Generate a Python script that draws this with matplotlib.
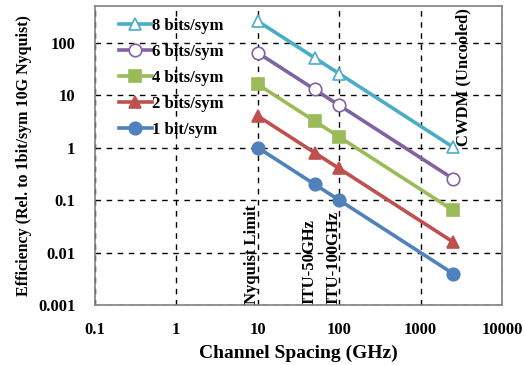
import matplotlib
matplotlib.use("Agg")
import matplotlib.pyplot as plt

plt.rcParams['font.family'] = ['Liberation Serif', 'DejaVu Serif']
plt.rcParams['font.weight'] = 'bold'

# channel spacing (GHz)
spacing = [10, 50, 100, 2500]
labels = ['8 bits/sym', '6 bits/sym', '4 bits/sym', '2 bits/sym', '1 bit/sym']
eff_8 = [256, 51.2, 25.6, 1.024]
eff_6 = [64, 12.8, 6.4, 0.256]
eff_4 = [16, 3.2, 1.6, 0.064]
eff_2 = [4, 0.8, 0.4, 0.016]
eff_1 = [1, 0.2, 0.1, 0.004]
series = [eff_8, eff_6, eff_4, eff_2, eff_1]
colors = ['#4BACC6', '#8064A2', '#9BBB59', '#C0504D', '#4F81BD']
markers = ['^', 'o', 's', '^', 'o']
filled = [False, False, True, True, True]

# vertical annotations
notes = ['Nyquist Limit', 'ITU-50GHz', 'ITU-100GHz']
note_x = [10, 50, 100]

fig = plt.figure(figsize=(5.24, 3.65), dpi=100)
ax = fig.add_axes([0.181, 0.164, 0.777, 0.82])

for ys, lab, c, m, f in zip(series, labels, colors, markers, filled):
    ax.plot(spacing, ys, color=c, lw=2.6, marker=m, ms=9,
            markerfacecolor=c if f else 'white', markeredgecolor=c,
            markeredgewidth=1.2, label=lab)

ax.set_xscale('log')
ax.set_yscale('log')
ax.set_xlim(0.1, 10000)
ax.set_ylim(0.001, 500)
ax.set_xticks([0.1, 1, 10, 100, 1000, 10000])
ax.set_xticklabels(['0.1', '1', '10', '100', '1000', '10000'])
ax.set_yticks([0.001, 0.01, 0.1, 1, 10, 100])
ax.set_yticklabels(['0.001', '0.01', '0.1', '1', '10', '100'])
ax.minorticks_off()
ax.tick_params(length=0, labelsize=12)
ax.tick_params(axis='y', pad=14)
ax.tick_params(axis='x', pad=12)
ax.grid(True, color='black', ls=(0, (4, 4)), lw=1)
for s in ax.spines.values():
    s.set_color('#808080')
    s.set_linewidth(1.2)

ax.set_xlabel('Channel Spacing (GHz)', fontsize=14, fontweight='bold', labelpad=5)
ax.set_ylabel('Efficiency (Rel. to 1bit/sym 10G Nyquist)', fontsize=11.5, fontweight='bold', labelpad=4)

for t, xv in zip(notes, note_x):
    ax.text(xv * 1.08, 0.00105, t, rotation=90, ha='right', va='bottom', fontsize=12, fontweight='bold')
ax.text(2650, 450, 'CWDM (Uncooled)', rotation=90, ha='left', va='top', fontsize=12, fontweight='bold')

ax.legend(loc='upper left', bbox_to_anchor=(0.03, 1.0), frameon=False, fontsize=12,
          handlelength=2.0, handletextpad=0.0, labelspacing=0.6, borderaxespad=0.3)

fig.savefig('out.png', dpi=100)
